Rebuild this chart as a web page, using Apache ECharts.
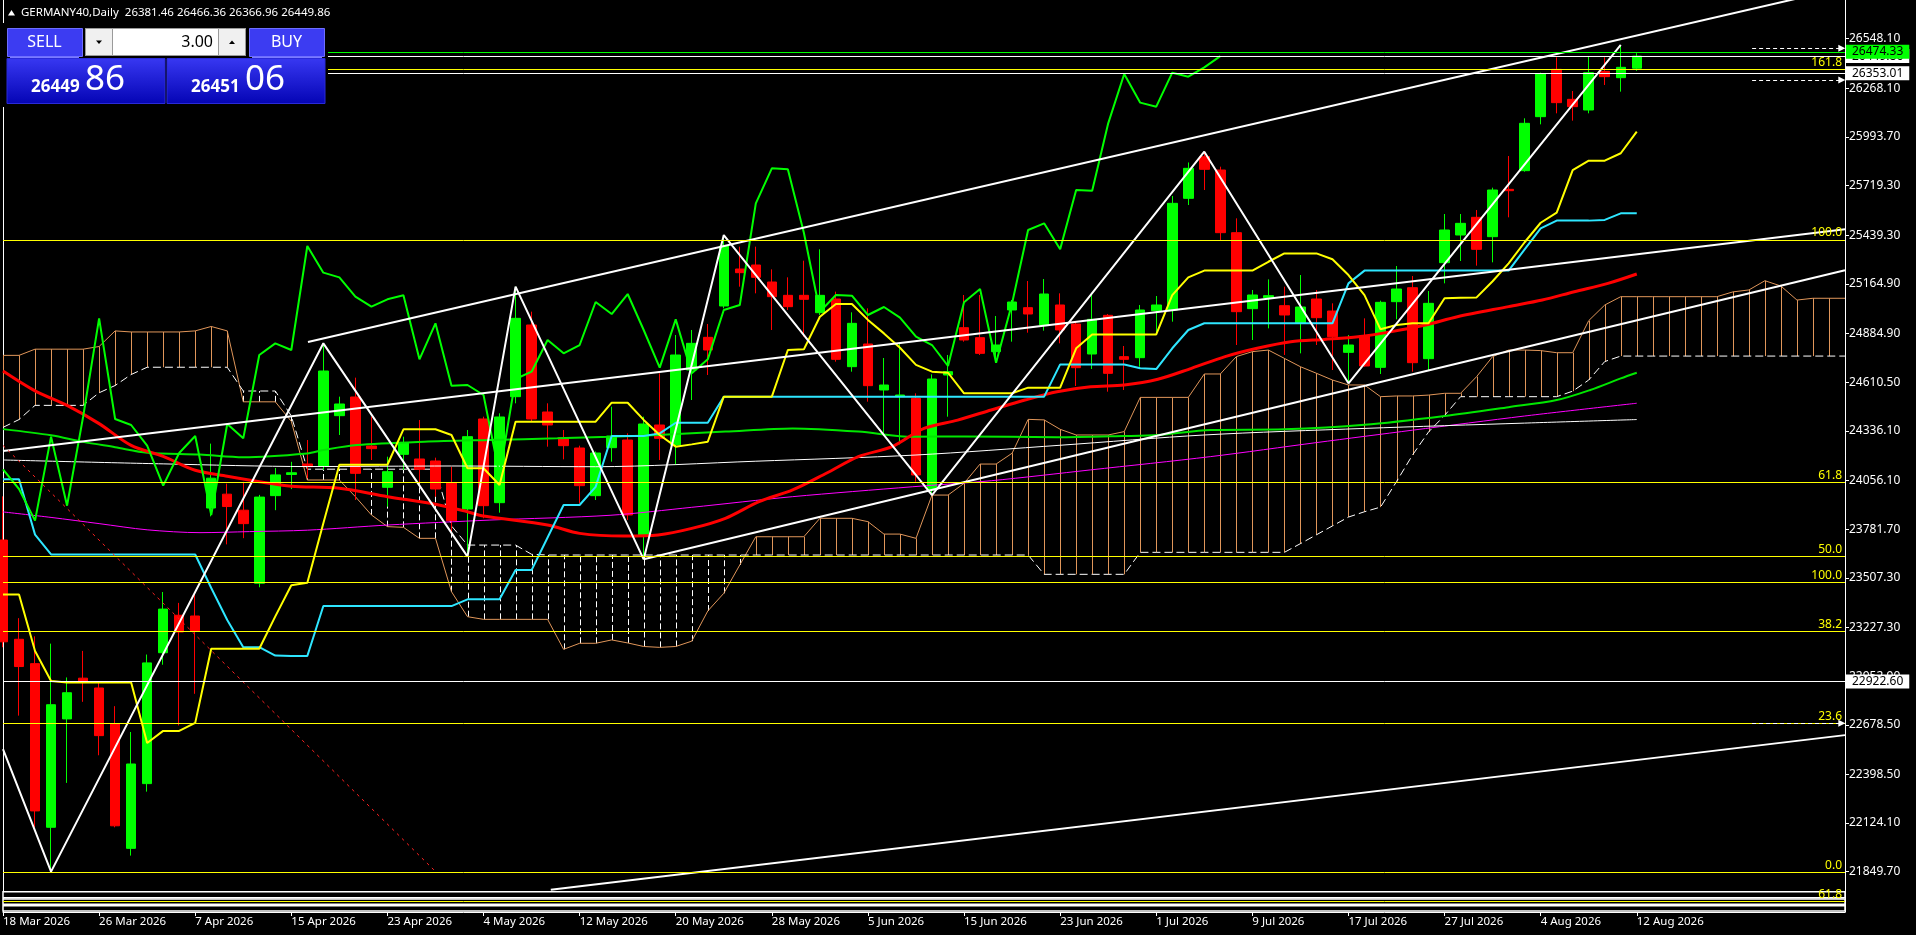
<!DOCTYPE html>
<html><head><meta charset="utf-8">
<script src="https://cdn.jsdelivr.net/npm/echarts@6/dist/echarts.min.js"></script>
<style>html,body{margin:0;padding:0;background:#000;overflow:hidden}#c{width:1916px;height:935px}</style>
</head><body><div id="c"></div>
<script>
// ---------- DATA ----------
const symbol = 'GERMANY40', timeframe = 'Daily';
const tradingDays = {Mar:[18,19,20,23,24,25,26,27,30,31],
 Apr:[1,2,7,8,9,10,13,14,15,16,17,20,21,22,23,24,27,28,29,30],
 May:[4,5,6,7,8,11,12,13,14,15,18,19,20,21,22,25,26,27,28,29],
 Jun:[1,2,3,4,5,8,9,10,11,12,15,16,17,18,19,22,23,24,25,26,29,30],
 Jul:[1,2,3,6,7,8,9,10,13,14,15,16,17,20,21,22,23,24,27,28,29,30,31],
 Aug:[3,4,5,6,7,10,11,12]};
const futureDays = ['13 Aug 2026','14 Aug 2026','17 Aug 2026','18 Aug 2026','19 Aug 2026','20 Aug 2026','21 Aug 2026','24 Aug 2026','25 Aug 2026','26 Aug 2026','27 Aug 2026','28 Aug 2026','31 Aug 2026'];
const opens = [23720.6,23160.7,23023.3,22100.3,22711.5,22941.3,22885.9,22684.9,21981.4,22346.5,
 23084.8,23296.1,23292.0,23901.1,23979.1,23888.8,23476.6,23970.9,24090.0,24149.3,
 24138.0,24421.9,24527.2,24250.8,24017.7,24203.8,24177.5,24166.2,24044.0,23895.5,
 24403.1,23931.2,24529.1,24933.3,24442.6,24297.8,24239.5,23970.7,24241.4,24284.6,
 23748.8,24369.2,24256.4,24679.5,24863.7,25040.4,25249.1,25271.7,25175.8,25100.6,
 25100.6,25002.8,25079.9,24698.3,24826.1,24566.7,24529.1,24519.6,24002.6,24651.2,
 24918.2,24861.8,24782.9,25017.9,25031.1,24933.3,25046.1,24938.9,24769.7,24987.8,
 24754.7,24749.0,25014.1,25017.9,25647.7,25882.7,25807.5,25454.0,25025.4,25087.4,
 25042.3,24942.6,25079.9,25012.2,24779.0,24873.1,24694.5,25064.9,25143.8,24743.3,
 25284.8,25440.9,25540.6,25431.5,25698.5,25803.8,26108.4,26375.4,26206.1,26146.0,
 26364.0,26328.3,26381.46];
const highs = [23966.8,23279.7,23177.1,23136.1,22945.4,23095.1,22924.9,22783.3,22637.7,23074.6,
 23427.3,23365.8,23413.0,24264.2,24038.5,24048.8,23975.0,24126.7,24161.6,24284.6,
 24829.9,24529.1,24636.2,24416.3,24190.6,24303.5,24397.5,24185.0,24134.2,24341.1,
 24416.3,24435.1,25149.5,25008.5,24491.5,24341.1,24252.7,24220.0,24472.6,24322.2,
 24416.2,24660.7,24876.9,24905.1,24938.9,25440.9,25375.1,25375.1,25247.2,25202.1,
 25296.1,25360.1,25121.3,25004.7,25027.3,24747.1,24829.9,24547.8,24655.0,24764.1,
 25102.5,25102.5,24984.0,25074.3,25181.4,25192.7,25111.9,24952.1,25102.5,24995.3,
 24814.8,25046.1,25096.8,25660.9,25850.0,25910.9,25826.3,25534.9,25130.7,25190.8,
 25149.5,25215.3,25130.7,25055.5,24876.9,24970.8,25070.5,25266.0,25209.6,25125.0,
 25559.3,25559.3,25582.0,25707.9,25886.5,26099.0,26356.5,26443.0,26253.1,26450.5,
 26443.0,26512.6,26466.36];
const lows = [23115.6,22730.0,22100.3,21850.0,22350.6,22807.9,22506.4,22100.0,21940.4,22301.3,
 23017.1,22674.6,22853.1,23854.0,23696.0,23730.9,23454.0,23888.8,24007.8,24068.4,
 24115.4,24312.9,23946.2,24171.8,23908.6,24115.4,24040.2,23965.0,23758.2,23626.6,
 23842.8,23874.8,24491.5,24388.1,24247.0,24175.6,23927.5,23946.2,24162.4,23833.4,
 23611.5,24171.8,24143.6,24510.2,24651.3,25027.3,25149.5,25111.9,24905.1,25017.9,
 24867.5,24989.7,24726.4,24670.0,24500.8,24322.2,24260.0,24049.6,23974.4,24416.2,
 24839.3,24764.0,24720.8,24839.3,24890.0,24901.3,24829.9,24589.2,24685.1,24557.2,
 24566.6,24698.2,24886.3,24952.1,25610.0,25694.7,25412.7,24820.4,24848.6,24914.4,
 24764.0,24773.4,24820.4,24679.4,24604.2,24698.3,24656.9,24965.2,24670.0,24679.4,
 25168.3,25294.2,25268.0,25286.8,25540.6,25798.0,26065.1,26127.2,26085.8,26127.2,
 26287.0,26249.4,26366.96];
const closes = [23146.4,23006.9,22192.6,22791.5,22859.2,22920.8,22617.2,22108.6,22457.2,23027.4,
 23330.9,23201.7,23207.9,24069.3,23909.3,23812.9,23962.7,24087.8,24100.0,24134.2,
 24673.8,24487.7,24096.6,24235.8,24106.0,24269.6,24119.2,24008.3,23829.7,24303.5,
 23914.3,24414.4,24970.9,24403.1,24369.3,24252.7,24027.1,24211.3,24307.2,23861.6,
 24374.9,24294.0,24764.0,24829.9,24792.3,25378.9,25228.5,25202.1,25093.1,25036.7,
 25078.0,25100.6,24739.6,24942.7,24591.1,24594.8,24538.4,24087.2,24628.7,24670.0,
 24848.7,24773.4,24820.4,25063.0,24995.3,25108.1,24905.1,24692.6,24965.2,24660.6,
 24739.6,25017.9,25046.1,25619.5,25816.9,25811.3,25454.0,25008.4,25102.5,25098.7,
 24989.7,25034.8,24974.6,24867.4,24820.4,24702.0,25061.1,25136.3,24720.8,25055.5,
 25469.1,25506.7,25360.1,25694.7,25690.9,26070.8,26349.0,26187.4,26164.8,26356.5,
 26334.0,26386.6,26449.86];
const tenkan = [23413,23413,23095,22925,22917,22917,22917,22917,22917,22576,
 22644,22644,22689,23107,23107,23107,23107,23290,23465,23480,
 23815,24145,24145,24145,24145,24345,24345,24345,24313,24125,
 24125,24031,24388,24388,24388,24388,24388,24388,24495,24495,
 24398,24313,24247,24260,24275,24529,24529,24529,24529,24792,
 24796,24980,25052,25052,24962,24886,24805,24708,24670,24664,
 24548,24548,24548,24548,24580,24580,24580,24802,24880,24880,
 24880,24880,24880,25102,25202,25240,25240,25240,25240,25290,
 25337,25337,25337,25304,25215,25102,24909,24933,24943,24943,
 25084,25087,25089,25180,25281,25400,25510,25567,25807,25860,
 25860,25902,26024];
const kijun = [24063,24063,23751,23639,23639,23639,23639,23639,23639,23639,
 23639,23639,23639,23450,23269,23116,23116,23069,23066,23066,
 23348,23348,23348,23348,23348,23348,23348,23348,23348,23386,
 23386,23386,23551,23551,23735,23918,23918,24020,24307,24307,
 24307,24322,24382,24382,24382,24529,24529,24529,24529,24529,
 24529,24529,24529,24529,24529,24529,24529,24529,24529,24529,
 24529,24529,24529,24529,24529,24529,24711,24711,24711,24711,
 24711,24689,24685,24802,24905,24943,24943,24943,24943,24943,
 24943,24943,24943,24943,25168,25240,25240,25240,25240,25240,
 25240,25240,25240,25240,25240,25360,25478,25522,25522,25522,
 25526,25563,25563];
const spanA = [24762,24762,24797,24797,24797,24797,24812,24900,24894,24894,
 24894,24894,24900,24925,24900,24500,24500,24500,24390,24059,
 24059,24059,23965,23862,23796,23792,23730,23730,23429,23288,
 23273,23273,23273,23273,23273,23104,23138,23138,23157,23140,
 23120,23115,23120,23150,23320,23420,23580,23739,23739,23739,
 23739,23843,23843,23843,23824,23754,23754,23730,23974,23974,
 24040,24149,24149,24210,24401,24398,24345,24313,24313,24313,
 24332,24525,24525,24525,24525,24657,24657,24755,24783,24792,
 24745,24698,24661,24623,24595,24595,24529,24533,24533,24538,
 24548,24548,24642,24755,24792,24792,24789,24777,24777,24958,
 25046,25093,25093,25093,25093,25093,25093,25093,25120,25131,
 25183,25153,25074,25084,25084,25084];
const spanB = [24356,24400,24480,24480,24480,24480,24551,24592,24654,24695,
 24695,24695,24695,24695,24695,24561,24561,24561,24420,24120,
 24120,24120,24120,24120,24120,24120,24120,24120,23800,23692,
 23692,23692,23692,23640,23636,23636,23636,23636,23636,23636,
 23636,23636,23636,23636,23636,23636,23636,23636,23636,23636,
 23636,23636,23636,23636,23636,23636,23636,23636,23636,23636,
 23636,23636,23636,23636,23636,23527,23527,23527,23527,23527,
 23527,23651,23651,23651,23651,23651,23651,23651,23651,23651,
 23651,23700,23750,23800,23850,23880,23906,24050,24200,24330,
 24423,24529,24529,24529,24529,24529,24529,24529,24560,24623,
 24727,24758,24758,24758,24758,24758,24758,24758,24758,24758,
 24758,24758,24758,24758,24758,24758];
const chikouShift = 26;
// moving averages read at sample bars
const maRedX = [0,2,4,6,8,10,12,14,16,18,21,24,27,29,30,34,36,38.8,40.9,43,45.1,47.2,49.3,51.4,53.4,55.5,57.5,59.6,61.7,63.8,65.8,67.9,70,72.1,74.2,76.3,78.3,80.4,82.5,84.6,86.7,88.8,90.8,94,96.1,98.1,100.2,102];
const maRedY = [24674,24562,24480,24377,24254,24192,24114,24080,24049,24024,24012,23965,23922,23880,23856,23805,23758,23743,23749,23786,23843,23937,24003,24097,24191,24247,24350,24397,24454,24510,24557,24585,24595,24627,24689,24755,24802,24839,24852,24867,24896,24933,24980,25037,25074,25121,25168,25221];
const maGreenX = [0,3,5,7,9,12.3,15,19,20,22.1,26.3,30.4,34.6,37.9,40.9,45.1,49.3,53.4,56.8,60,65.8,70,72.1,75.4,80,85,90,94,97,99.1,101,102];
const maGreenY = [24346,24311,24274,24244,24213,24203,24188,24209,24228,24256,24275,24285,24294,24303,24313,24332,24350,24332,24303,24305,24300,24307,24313,24341,24345,24370,24420,24470,24510,24567,24632,24664];
const maPurpleX = [0,3,6,9,12.3,15.4,19,24,30.4,37.9,43,49.3,56.8,61.7,67.9,75.4,82,88,95,102];
const maPurpleY = [23879,23848,23813,23778,23762,23768,23776,23805,23833,23860,23905,23965,24021,24055,24116,24191,24270,24340,24420,24492];
const maWhiteX = [0,10,19,28,37,47,57,66,75,85,95,102];
const maWhiteY = [24172,24150,24135,24138,24134,24165,24200,24255,24313,24350,24380,24400];
// zigzag vertices
const zigzagX = [0,3,20,29,32,40,45,58,75,84,101];
const zigzagY = [22541,21850,24829.9,23626.6,25149.5,23611.5,25440.9,23974.4,25910.9,24604.2,26512.6];
// trend lines [x1, price1, x2, price2]
const trendLines = [[19.04,24837,115,26837],[0,24223,115,25474],[40,23611.5,115,25242],[34.2,21748,115,22620]];
const redDotLine = [0,24254,26.9,21860];
// horizontal levels
const fibLevels = [26375.5,25412.7,24046.0,23628.7,23482.0,23205.7,22686.7,21846.0,21684.0];
const fibTexts = ['161.8','100.0','61.8','50.0','100.0','38.2','23.6','0.0','61.8'];
const whiteLevels = [26449.86,26353.01,22922.60];
const greenLevel = 26474.33;
const arrowLevels = [26494,26315,22686.7];
const arrowSpan = [109.2,114.8];
const rectBands = [[21736.9,21703.0],[21695.8,21665.9],[21658.0,21628.0]];
const yTicks = [26548.10,26268.10,25993.70,25719.30,25439.30,25164.90,24884.90,24610.50,24336.10,24056.10,23781.70,23507.30,23227.30,22952.90,22678.50,22398.50,22124.10,21849.70];
const yMin = 21622.4, yMax = 26766.4;
const lotSize = '3.00';
const bidPrice = 26449.86, askPrice = 26451.06;

// ---------- BUILD ----------
const FONT = 'Noto Sans';
const dates = [];
Object.keys(tradingDays).forEach(m => tradingDays[m].forEach(d => dates.push(d + ' ' + m + ' 2026')));
const nBars = dates.length;
const cats = dates.concat(futureDays);
const lastX = cats.length - 1;
const candleData = opens.map((o, i) => [o, closes[i], lows[i], highs[i]]);
const chikou = closes.slice(chikouShift);
const pairs = (xs, ys) => xs.map((x, i) => [x, ys[i]]);
const cloudData = spanA.map((a, i) => [i, a, spanB[i]]);
const showIdx = (idx) => idx < nBars && idx % 6 === 0;

const lineS = (name, data, color, width, z, extra) => Object.assign({
  name, type: 'line', data, xAxisIndex: 1, showSymbol: false, symbol: 'none', silent: true,
  animation: false, z, lineStyle: { color, width }
}, extra || {});

const markLineData = [];
fibLevels.forEach((v, i) => markLineData.push({
  yAxis: v, lineStyle: { color: '#ffff00', width: 1, type: 'solid' },
  label: { show: true, position: 'insideEndTop', formatter: fibTexts[i], color: '#ffff00',
    fontFamily: FONT, fontSize: 12, distance: [3, 1] }
}));
whiteLevels.forEach(v => markLineData.push({
  yAxis: v, lineStyle: { color: '#ffffff', width: 1, type: 'solid' },
  label: { show: true, position: 'end', formatter: v.toFixed(2), color: '#000', backgroundColor: '#fff',
    padding: [1, 6, 0, 6], lineHeight: 13, fontFamily: FONT, fontSize: 12, distance: 1 }
}));
markLineData.push({
  yAxis: greenLevel, lineStyle: { color: '#00ff00', width: 1, type: 'solid' },
  label: { show: true, position: 'end', formatter: greenLevel.toFixed(2), color: '#000', backgroundColor: '#00ff00',
    padding: [1, 6, 0, 6], lineHeight: 13, fontFamily: FONT, fontSize: 12, distance: 1 }
});
arrowLevels.forEach(v => markLineData.push([
  { coord: [arrowSpan[0], v], symbol: 'none', lineStyle: { color: '#fff', width: 1, type: [4, 3] }, label: { show: false } },
  { coord: [arrowSpan[1], v], symbol: 'triangle', symbolSize: [7, 7], symbolRotate: -90 }
]));

const series = [
  { name: 'cloud', type: 'custom', xAxisIndex: 1, data: cloudData, silent: true, animation: false, z: 1, clip: true,
    encode: { x: 0, y: [1, 2] },
    renderItem: (params, api) => {
      const x = api.value(0), a = api.value(1), b = api.value(2);
      const p1 = api.coord([x, a]), p2 = api.coord([x, b]);
      const up = a >= b;
      const px = Math.round(p1[0]) + 0.5;
      return { type: 'line', shape: { x1: px, y1: p1[1], x2: px, y2: p2[1] },
        style: { stroke: up ? '#e0965a' : '#ffffff', lineWidth: 1, lineDash: up ? null : [6, 3] } };
    } },
  lineS('spanA', spanA.map((v, i) => [i, v]), '#e0965a', 1, 1),
  lineS('spanB', spanB.map((v, i) => [i, v]), '#ffffff', 1, 1, { lineStyle: { color: '#ffffff', width: 1, type: [8, 4] } }),
  { name: 'price', type: 'candlestick', xAxisIndex: 0, data: candleData, barWidth: 10, silent: true, animation: false, z: 2,
    itemStyle: { color: '#00ff00', color0: '#ff0000', borderColor: '#00ff00', borderColor0: '#ff0000', borderWidth: 1 } },
  lineS('maPurple', pairs(maPurpleX, maPurpleY), '#ff00ff', 1, 3, { smooth: 0.3 }),
  lineS('maWhite', pairs(maWhiteX, maWhiteY), '#ffffff', 1, 3, { smooth: 0.3 }),
  lineS('maGreen', pairs(maGreenX, maGreenY), '#00e600', 2, 3, { smooth: 0.3 }),
  lineS('maRed', pairs(maRedX, maRedY), '#ff0000', 3, 3, { smooth: 0.3 }),
  lineS('kijun', kijun.map((v, i) => [i, v]), '#2ee6ff', 2, 3),
  lineS('tenkan', tenkan.map((v, i) => [i, v]), '#ffff00', 2, 3),
  lineS('chikou', chikou.map((v, i) => [i, v]), '#00ff00', 2, 3),
  lineS('zigzag', pairs(zigzagX, zigzagY), '#ffffff', 2, 4),
];
trendLines.forEach((t, i) => series.push(lineS('trend' + i, [[t[0], t[1]], [t[2], t[3]]], '#ffffff', 2, 4)));
series.push(lineS('redDot', [[redDotLine[0], redDotLine[1]], [redDotLine[2], redDotLine[3]]], '#ff0000', 1, 4,
  { lineStyle: { color: '#ff2020', width: 1, type: [3, 4] } }));
series.push({
  name: 'objects', type: 'line', xAxisIndex: 1, data: [], silent: true, animation: false, z: 5,
  markLine: { silent: true, animation: false, symbol: ['none', 'none'], data: markLineData }
});
series.push({
  name: 'rects', type: 'line', xAxisIndex: 1, data: [], silent: true, animation: false, z: 6,
  markArea: { silent: true, animation: false,
    itemStyle: { color: '#000000', borderColor: '#ffffff', borderWidth: 1.5 },
    data: rectBands.map(b => [{ coord: [0, b[0]] }, { coord: [lastX, b[1]] }]) }
});

// ---------- PANEL (UI) ----------
const lastIdx = nBars - 1;
const titleText = symbol + ',' + timeframe + '  ' + [opens[lastIdx], highs[lastIdx], lows[lastIdx], closes[lastIdx]].map(v => v.toFixed(2)).join(' ');
const splitPrice = p => { const s = p.toFixed(2); return [s.slice(0, -3), s.slice(-2)]; };
const bidParts = splitPrice(bidPrice), askParts = splitPrice(askPrice);
const grad = () => new echarts.graphic.LinearGradient(0, 0, 0, 1, [{ offset: 0, color: '#3838f2' }, { offset: 1, color: '#0404b4' }]);
const txt = (t, x, y, font, fill, align) => ({ type: 'text', z: 103, silent: true,
  style: { text: t, x, y, font, fill: fill || '#fff', align: align || 'left', textAlign: align || 'left', verticalAlign: 'middle', textVerticalAlign: 'middle' } });
const graphic = [
  { type: 'polygon', z: 103, silent: true, shape: { points: [[8, 15.5], [15, 15.5], [11.5, 10]] }, style: { fill: '#fff' } },
  txt(titleText, 21, 13, '11.5px "Noto Sans"'),
  { type: 'rect', z: 100, silent: true, shape: { x: 3, y: 23, width: 325, height: 84 }, style: { fill: '#000' } },
  { type: 'rect', z: 101, silent: true, shape: { x: 7.5, y: 28.5, width: 75, height: 28 }, style: { fill: '#3c3cf2', stroke: '#6e6eff', lineWidth: 1 } },
  { type: 'rect', z: 101, silent: true, shape: { x: 249.5, y: 28.5, width: 75, height: 28 }, style: { fill: '#3c3cf2', stroke: '#6e6eff', lineWidth: 1 } },
  { type: 'line', z: 102, silent: true, shape: { x1: 10, y1: 57.5, x2: 79, y2: 57.5 }, style: { stroke: '#7a7aff', lineWidth: 1 } },
  { type: 'line', z: 102, silent: true, shape: { x1: 252, y1: 57.5, x2: 322, y2: 57.5 }, style: { stroke: '#7a7aff', lineWidth: 1 } },
  txt('SELL', 44.5, 42.5, '16px "Noto Sans"', '#fff', 'center'),
  txt('BUY', 286.5, 42.5, '16px "Noto Sans"', '#fff', 'center'),
  { type: 'rect', z: 101, silent: true, shape: { x: 85.5, y: 28.5, width: 160, height: 27 }, style: { fill: '#ffffff', stroke: '#9a9a9a', lineWidth: 1 } },
  { type: 'rect', z: 102, silent: true, shape: { x: 85.5, y: 28.5, width: 27, height: 27 }, style: { fill: '#f0f0f0', stroke: '#9a9a9a', lineWidth: 1 } },
  { type: 'rect', z: 102, silent: true, shape: { x: 218.5, y: 28.5, width: 27, height: 27 }, style: { fill: '#f0f0f0', stroke: '#9a9a9a', lineWidth: 1 } },
  { type: 'polygon', z: 103, silent: true, shape: { points: [[96, 40.5], [102, 40.5], [99, 44]] }, style: { fill: '#000' } },
  { type: 'polygon', z: 103, silent: true, shape: { points: [[229, 44], [235, 44], [232, 40.5]] }, style: { fill: '#000' } },
  txt(lotSize, 213, 42, '16px "Noto Sans"', '#000', 'right'),
  { type: 'rect', z: 101, silent: true, shape: { x: 7, y: 58.5, width: 158, height: 45 }, style: { fill: grad(), stroke: '#2a2ad8', lineWidth: 1 } },
  { type: 'rect', z: 101, silent: true, shape: { x: 167, y: 58.5, width: 158, height: 45 }, style: { fill: grad(), stroke: '#2a2ad8', lineWidth: 1 } },
  txt(bidParts[0], 31, 87, 'bold 17px "Noto Sans"'),
  txt(bidParts[1], 85, 80, '35px "Noto Sans"'),
  txt(askParts[0], 191, 87, 'bold 17px "Noto Sans"'),
  txt(askParts[1], 245, 80, '35px "Noto Sans"'),
];

const chart = echarts.init(document.getElementById('c'), null, { renderer: 'canvas' });
chart.setOption({
  backgroundColor: '#000000',
  animation: false,
  grid: { left: 3, right: 71, top: 0, bottom: 23, containLabel: false, outerBoundsMode: 'none' },
  xAxis: [
    { type: 'category', data: cats, boundaryGap: false, position: 'bottom',
      axisLine: { show: true, onZero: false, lineStyle: { color: '#fff', width: 1 } },
      axisTick: { show: true, interval: showIdx, length: 4, lineStyle: { color: '#fff' } },
      axisLabel: { show: true, interval: showIdx, align: 'left', color: '#fff', fontFamily: FONT, fontSize: 11.5, margin: 4 },
      splitLine: { show: false } },
    { type: 'value', min: 0, max: lastX, show: false, splitLine: { show: false } }
  ],
  yAxis: [
    { type: 'value', position: 'right', min: yMin, max: yMax, scale: true,
      axisLine: { show: true, onZero: false, lineStyle: { color: '#fff', width: 1 } },
      axisTick: { show: true, customValues: yTicks, length: 4, lineStyle: { color: '#fff' } },
      axisLabel: { show: true, customValues: yTicks, formatter: v => v.toFixed(2), color: '#fff', fontFamily: FONT, fontSize: 12, margin: 4 },
      splitLine: { show: false } },
    { type: 'value', position: 'left', min: yMin, max: yMax, scale: true,
      axisLine: { show: true, onZero: false, lineStyle: { color: '#fff', width: 1 } },
      axisTick: { show: false }, axisLabel: { show: false }, splitLine: { show: false } }
  ],
  series,
  graphic
});
</script></body></html>
